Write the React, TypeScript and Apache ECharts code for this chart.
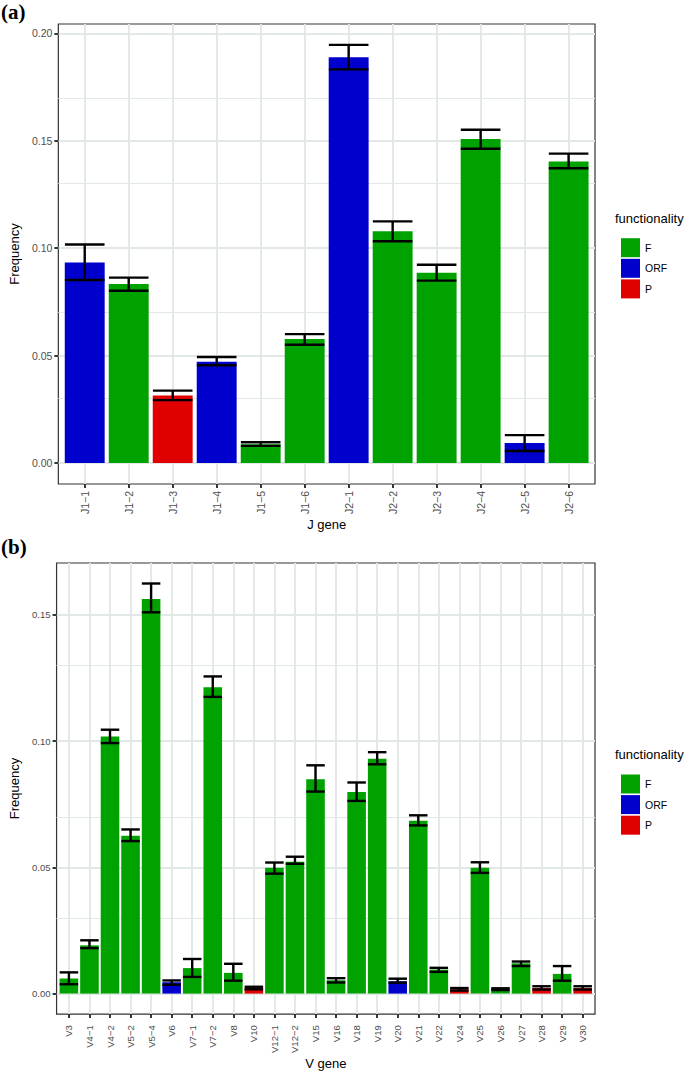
import React, { useEffect, useRef } from "react";
import * as echarts from "echarts";

const jGenes = ["J1−1", "J1−2", "J1−3", "J1−4", "J1−5", "J1−6", "J2−1", "J2−2", "J2−3", "J2−4", "J2−5", "J2−6"];
const jFunc = ["ORF", "F", "P", "ORF", "F", "F", "ORF", "F", "F", "F", "ORF", "F"];
const jFreq = [0.0934, 0.0833, 0.0315, 0.0472, 0.0088, 0.0577, 0.1889, 0.1079, 0.0886, 0.1508, 0.0093, 0.1404];
const jLow = [0.0852, 0.0802, 0.0293, 0.0455, 0.008, 0.0551, 0.1832, 0.1032, 0.0849, 0.1463, 0.0056, 0.1372];
const jHigh = [0.1017, 0.0863, 0.0337, 0.0494, 0.0097, 0.06, 0.1946, 0.1125, 0.0923, 0.1551, 0.013, 0.144];
const jTicks = [0, 0.05, 0.1, 0.15, 0.2];
const jMinor = [0.025, 0.075, 0.125, 0.175];

const vGenes = ["V3", "V4−1", "V4−2", "V5−2", "V5−4", "V6", "V7−1", "V7−2", "V8", "V10", "V12−1", "V12−2", "V15", "V16", "V18", "V19", "V20", "V21", "V22", "V24", "V25", "V26", "V27", "V28", "V29", "V30"];
const vFunc = ["F", "F", "F", "F", "F", "ORF", "F", "F", "F", "P", "F", "F", "F", "F", "F", "F", "ORF", "F", "F", "P", "F", "F", "F", "P", "F", "P"];
const vFreq = [0.006, 0.0191, 0.1018, 0.0625, 0.1563, 0.0045, 0.0101, 0.1213, 0.0082, 0.0022, 0.0498, 0.0522, 0.0849, 0.0053, 0.0798, 0.093, 0.0049, 0.0684, 0.0095, 0.0017, 0.0498, 0.0018, 0.012, 0.0022, 0.0078, 0.0022];
const vLow = [0.0037, 0.018, 0.0992, 0.0604, 0.151, 0.0035, 0.0066, 0.1175, 0.0051, 0.0017, 0.0475, 0.0514, 0.08, 0.0044, 0.0763, 0.0908, 0.0043, 0.0666, 0.0086, 0.0012, 0.0478, 0.0014, 0.0109, 0.0016, 0.0051, 0.0016];
const vHigh = [0.0084, 0.0211, 0.1045, 0.065, 0.1624, 0.0052, 0.0137, 0.1256, 0.0118, 0.0027, 0.0519, 0.0542, 0.0904, 0.0061, 0.0836, 0.0956, 0.0059, 0.0706, 0.0102, 0.0022, 0.052, 0.0021, 0.0127, 0.0029, 0.0109, 0.0029];
const vTicks = [0, 0.05, 0.1, 0.15];
const vMinor = [0.025, 0.075, 0.125];

const funcNames = ["F", "ORF", "P"];
const funcColors: Record<string, string> = { F: "#00a200", ORF: "#0000cc", P: "#e00000" };

const FONT = '"Liberation Sans", Arial, Helvetica, sans-serif';
const GRID_COLOR = "#e2e8e6";

type Panel = {
  cats: string[];
  func: string[];
  freq: number[];
  low: number[];
  high: number[];
  ticks: number[];
  minor: number[];
  top: number;
  height: number;
  xName: string;
  tickFont: number;
  xMargin: number;
  xNameGap: number;
};

const panels: Panel[] = [
  { cats: jGenes, func: jFunc, freq: jFreq, low: jLow, high: jHigh, ticks: jTicks, minor: jMinor, top: 24, height: 460, xName: "J gene", tickFont: 10.5, xMargin: 7, xNameGap: 32 },
  { cats: vGenes, func: vFunc, freq: vFreq, low: vLow, high: vHigh, ticks: vTicks, minor: vMinor, top: 563, height: 454, xName: "V gene", tickFont: 9.6, xMargin: 11, xNameGap: 39 },
];

const GRID_LEFT = 54;
const GRID_WIDTH = 541;

function buildOption() {
  const grid: any[] = [];
  const xAxis: any[] = [];
  const yAxis: any[] = [];
  const series: any[] = [];

  panels.forEach((p, k) => {
    const n = p.cats.length;
    const yMaxData = Math.max(...p.high);
    const unit = GRID_WIDTH / (n - 1 + 1.2);
    const barW = 0.9 * unit;
    grid.push({
      left: GRID_LEFT,
      top: p.top,
      width: GRID_WIDTH,
      height: p.height,
      show: true,
      borderColor: "#333333",
      borderWidth: 1.2,
      backgroundColor: "transparent",
    });
    const idx = p.cats.map((_, i) => i);
    xAxis.push({
      type: "value",
      gridIndex: k,
      min: -0.6,
      max: n - 1 + 0.6,
      name: p.xName,
      nameLocation: "middle",
      nameGap: p.xNameGap,
      nameTextStyle: { fontSize: 13, color: "#000", fontFamily: FONT },
      axisLine: { show: false, onZero: false },
      axisTick: { show: true, length: 4, customValues: idx, lineStyle: { color: "#222", width: 1.8 } },
      axisLabel: {
        show: true,
        customValues: idx,
        rotate: 90,
        margin: p.xMargin,
        fontSize: p.tickFont,
        color: "#4d4d4d",
        fontFamily: FONT,
        formatter: (v: number) => p.cats[Math.round(v)] ?? "",
      },
      splitLine: { show: false },
    });
    yAxis.push({
      type: "value",
      gridIndex: k,
      min: -0.05 * yMaxData,
      max: 1.05 * yMaxData,
      name: "Frequency",
      nameLocation: "middle",
      nameRotate: 90,
      nameGap: 31,
      nameTextStyle: { fontSize: 13, color: "#000", fontFamily: FONT },
      axisLine: { show: false, onZero: false },
      axisTick: { show: true, length: 4, customValues: p.ticks, lineStyle: { color: "#222", width: 1.8 } },
      axisLabel: {
        show: true,
        customValues: p.ticks,
        margin: 6,
        fontSize: p.tickFont,
        color: "#4d4d4d",
        fontFamily: FONT,
        formatter: (v: number) => v.toFixed(2),
      },
      splitLine: { show: false },
    });

    // grid lines
    const lines: any[] = [];
    p.ticks.forEach((t) => lines.push({ yAxis: t, lineStyle: { width: 1.9, color: GRID_COLOR, type: "solid" } }));
    p.minor.forEach((t) => lines.push({ yAxis: t, lineStyle: { width: 1.2, color: GRID_COLOR, type: "solid" } }));
    idx.forEach((i) => lines.push({ xAxis: i, lineStyle: { width: 1.9, color: GRID_COLOR, type: "solid" } }));
    series.push({
      type: "line",
      xAxisIndex: k,
      yAxisIndex: k,
      data: [[0, 0]],
      symbol: "none",
      silent: true,
      lineStyle: { width: 0, opacity: 0 },
      z: 0,
      markLine: {
        silent: true,
        z: 0,
        symbol: ["none", "none"],
        label: { show: false },
        data: lines,
      },
    });

    funcNames.forEach((f) => {
      series.push({
        type: "bar",
        name: f,
        xAxisIndex: k,
        yAxisIndex: k,
        stack: "panel" + k,
        barWidth: barW,
        z: 2,
        itemStyle: { color: funcColors[f] },
        data: idx.filter((i) => p.func[i] === f).map((i) => [i, p.freq[i]]),
      });
    });

    series.push({
      type: "custom",
      xAxisIndex: k,
      yAxisIndex: k,
      z: 3,
      silent: true,
      encode: { x: 0, y: [1, 2] },
      data: idx.map((i) => [i, p.low[i], p.high[i]]),
      renderItem: (params: any, api: any) => {
        const x = api.value(0);
        const lo = api.value(1);
        const hi = api.value(2);
        const a = api.coord([x, hi]);
        const b = api.coord([x, lo]);
        const hw = api.size([0.9, 0])[0] / 2;
        const style = { stroke: "#000", lineWidth: 2.4, fill: null };
        return {
          type: "group",
          children: [
            { type: "line", shape: { x1: a[0], y1: a[1], x2: b[0], y2: b[1] }, style },
            { type: "line", shape: { x1: a[0] - hw, y1: a[1], x2: a[0] + hw, y2: a[1] }, style },
            { type: "line", shape: { x1: a[0] - hw, y1: b[1], x2: a[0] + hw, y2: b[1] }, style },
          ],
        };
      },
    });
  });

  const legendCommon = {
    data: funcNames,
    orient: "vertical",
    left: 616,
    itemWidth: 19,
    itemHeight: 19,
    itemGap: 1.6,
    icon: "rect",
    selectedMode: false,
    textStyle: { fontSize: 10.5, color: "#000", fontFamily: FONT },
    itemStyle: { borderWidth: 0 },
  };

  return {
    animation: false,
    backgroundColor: "#ffffff",
    textStyle: { fontFamily: FONT },
    grid,
    xAxis,
    yAxis,
    series,
    legend: [
      { ...legendCommon, top: 233.2 },
      { ...legendCommon, top: 769.5 },
    ],
    graphic: [
      { type: "text", left: 1, top: 1, style: { text: "(a)", font: 'bold 21px "Liberation Serif", "Times New Roman", serif', fill: "#000" } },
      { type: "text", left: 1, top: 536, style: { text: "(b)", font: 'bold 21px "Liberation Serif", "Times New Roman", serif', fill: "#000" } },
      { type: "text", left: 615, top: 212, style: { text: "functionality", font: `13px ${FONT}`, fill: "#000" } },
      { type: "text", left: 615, top: 748, style: { text: "functionality", font: `13px ${FONT}`, fill: "#000" } },
    ],
  };
}

export default function App() {
  const ref = useRef<HTMLDivElement>(null);
  useEffect(() => {
    if (!ref.current) return;
    const chart = echarts.init(ref.current, undefined, { renderer: "svg" });
    chart.setOption(buildOption() as any);
    return () => chart.dispose();
  }, []);
  return (
    <div
      ref={ref}
      style={{ position: "absolute", left: 0, top: 0, width: 685, height: 1071, background: "#fff" }}
    />
  );
}
